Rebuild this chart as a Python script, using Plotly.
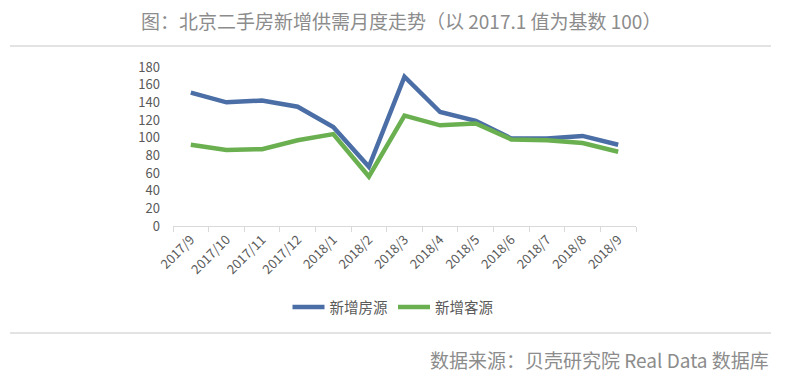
import plotly.graph_objects as go

months = ["2017/9", "2017/10", "2017/11", "2017/12", "2018/1", "2018/2", "2018/3",
          "2018/4", "2018/5", "2018/6", "2018/7", "2018/8", "2018/9"]
supply = [151, 140, 142, 135, 112, 67, 169, 129, 119, 99, 99, 102, 92]
demand = [92, 86, 87, 97, 104, 56, 125, 114, 116, 98, 97, 94, 84]
yticks = [0, 20, 40, 60, 80, 100, 120, 140, 160, 180]

FONT = "Noto Sans CJK SC"
GRAY = "#595959"

# the page body adds an 8px offset; compensate so the plot area lands at x 173-636, y 67-226
OFF = 8
L, T, PW, PH = 173 - OFF, 67 - OFF, 463, 159


def py(y):  # page pixel y -> paper
    return (226 - y) / PH


def px(x):  # page pixel x -> paper
    return (x - 173) / PW


fig = go.Figure()
fig.add_trace(go.Scatter(x=months, y=supply, mode="lines", name="新增房源",
                         line=dict(color="#4a6ea5", width=4.5)))
fig.add_trace(go.Scatter(x=months, y=demand, mode="lines", name="新增客源",
                         line=dict(color="#6bb050", width=4.5)))

fig.update_layout(
    width=786, height=385,
    margin=dict(l=L, r=786 - L - PW, t=T, b=385 - T - PH, autoexpand=False),
    paper_bgcolor="white", plot_bgcolor="white",
    font=dict(family=FONT, color=GRAY),
    showlegend=True,
    legend=dict(orientation="h", x=px(393), xanchor="center", y=py(307), yanchor="middle",
                font=dict(size=14.5, color=GRAY), itemwidth=32, tracegroupgap=0),
    xaxis=dict(type="category", range=[-0.5, 12.5], showgrid=False, showline=True,
               linecolor="#d9d9d9", linewidth=1, ticks="outside", tickson="boundaries",
               ticklen=5, tickcolor="#d9d9d9", tickangle=-45,
               tickfont=dict(size=13, color=GRAY), zeroline=False, automargin=False),
    yaxis=dict(range=[0, 180], tickvals=yticks, showgrid=False, showline=False,
               zeroline=False, tickfont=dict(size=13, color=GRAY), ticklabelstandoff=12,
               automargin=False),
    shapes=[
        dict(type="line", xref="paper", yref="paper", x0=px(10), x1=px(771),
             y0=py(46), y1=py(46), line=dict(color="#c8c8c8", width=1.2)),
        dict(type="line", xref="paper", yref="paper", x0=px(10), x1=px(771),
             y0=py(333), y1=py(333), line=dict(color="#c8c8c8", width=1.2)),
    ],
    annotations=[
        dict(text="图：北京二手房新增供需月度走势（以 2017.1 值为基数 100）", xref="paper", yref="paper",
             x=px(401), y=py(20), xanchor="center", yanchor="middle",
             showarrow=False, font=dict(size=19, color="#8c8c8c", family=FONT)),
        dict(text="数据来源：贝壳研究院 Real Data 数据库", xref="paper", yref="paper",
             x=px(771), y=py(359), xanchor="right", yanchor="middle",
             showarrow=False, font=dict(size=19, color="#8c8c8c", family=FONT)),
    ],
)

fig.write_html("out.html")
